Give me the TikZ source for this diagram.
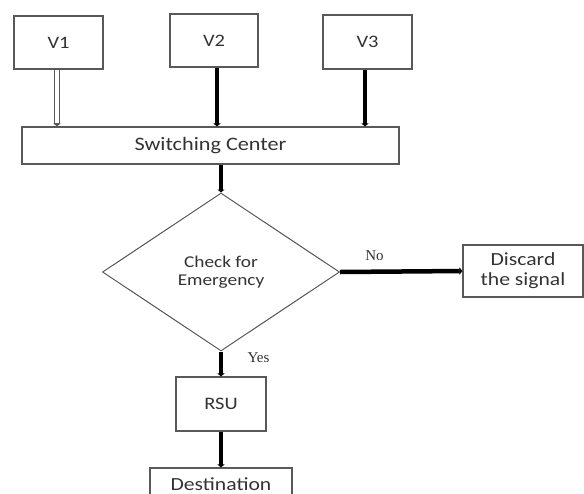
\documentclass[tikz,border=0pt]{standalone}
\usepackage{fontspec}
\setmainfont[FakeStretch=1.17]{Carlito}
\newfontfamily\tms{Liberation Serif}
\usetikzlibrary{shapes.geometric,arrows.meta}
\definecolor{edge}{gray}{0.35}
\definecolor{txt}{gray}{0.2}
\tikzset{
  box/.style={draw=edge, line width=1.1pt, rectangle, inner sep=0pt, text=txt, align=center},
  thk/.style={line width=4.5pt, black, -{Triangle[length=3pt,width=7pt]}},
  dblout/.style={line width=6pt, edge, -{Triangle[length=3pt,width=7pt]}},
  dblin/.style={line width=3.6pt, white, shorten >=3pt},
  lbl/.style={font=\tms\fontsize{15}{17}\selectfont, text=txt, inner sep=0pt}
}
\begin{document}
\begin{tikzpicture}[x=1pt,y=-1pt]
\clip (0,0) rectangle (584,493);
\fill[white] (0,0) rectangle (584,493);
\node[box, minimum width=89pt, minimum height=53pt, font=\fontsize{17.5}{20}\selectfont] (V1) at (58.5,42.5) {V1};
\node[box, minimum width=88pt, minimum height=53pt, font=\fontsize{17.5}{20}\selectfont] (V2) at (214,40.5) {V2};
\node[box, minimum width=89pt, minimum height=54pt, font=\fontsize{17.5}{20}\selectfont] (V3) at (367.5,42) {V3};
\node[box, minimum width=377pt, minimum height=37pt, font=\fontsize{19}{21}\selectfont] (SC) at (210.5,145.5) {Switching Center};
\node[draw=edge, line width=1pt, diamond, inner sep=0pt, minimum width=237pt, minimum height=158pt, text=txt, align=center, font=\fontsize{16.5}{18}\selectfont] (D) at (221,272) {Check for\\Emergency};
\node[box, minimum width=120pt, minimum height=52pt, font=\fontsize{18.5}{20}\selectfont] (DS) at (523,271) {Discard\\the signal};
\node[box, minimum width=90pt, minimum height=54pt, font=\fontsize{17.5}{20}\selectfont] (RSU) at (221,404) {RSU};
\node[box, minimum width=142pt, minimum height=32pt, font=\fontsize{18.5}{20}\selectfont] (DT) at (221,484) {Destination};
\node[lbl] (no) at (374.5,256) {No};
\node[lbl] (yes) at (258.5,358) {Yes};
\draw[dblout] ([xshift=-1.5pt]V1.south) -- ([xshift=-1.5pt]V1.south |- SC.north);
\draw[dblin] ([xshift=-1.5pt,yshift=-0.6pt]V1.south) -- ([xshift=-1.5pt]V1.south |- SC.north);
\draw[thk] ([xshift=3pt]V2.south) -- ([xshift=3pt]V2.south |- SC.north);
\draw[thk] ([xshift=-2.5pt]V3.south) -- ([xshift=-2.5pt]V3.south |- SC.north);
\draw[thk] ([xshift=10.5pt]SC.south) -- (D.north);
\draw[thk] (D.east) -- (DS.west);
\draw[thk] (D.south) -- (RSU.north);
\draw[thk] (RSU.south) -- (DT.north);
\end{tikzpicture}
\end{document}
